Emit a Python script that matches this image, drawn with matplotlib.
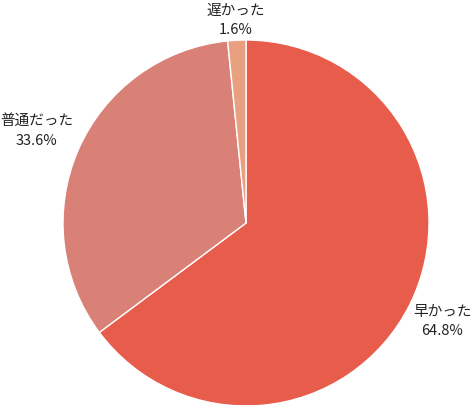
import numpy as np
import matplotlib.pyplot as plt

plt.rcParams['font.family'] = ['Noto Sans CJK JP', 'DejaVu Sans']

labels = ['早かった', '普通だった', '遅かった']
values = [64.8, 33.6, 1.6]
colors = ['#E85C4C', '#D98077', '#E8A080']
label_dist = [1.20, 1.25, 1.11]

fig = plt.figure(figsize=(4.74, 4.05), dpi=100)
ax = fig.add_axes([0, 0, 1, 1])
ax.set_xlim(0, 474)
ax.set_ylim(0, 405)
ax.axis('off')

cx, cy, r = 246, 182, 183
wedges, _ = ax.pie(values, colors=colors, startangle=90, counterclock=False,
                   center=(cx, cy), radius=r, frame=True,
                   wedgeprops=dict(edgecolor='white', linewidth=1))
ax.set_xlim(0, 474)
ax.set_ylim(0, 405)
ax.axis('off')

for w, lab, v, d in zip(wedges, labels, values, label_dist):
    mid = np.deg2rad((w.theta1 + w.theta2) / 2)
    x = cx + d * r * np.cos(mid)
    y = cy + d * r * np.sin(mid)
    ax.text(x, y, f'{lab}\n{v:.1f}%', ha='center', va='center',
            fontsize=10.5, linespacing=1.5, color='#222222')

fig.savefig('out.png', dpi=100)
